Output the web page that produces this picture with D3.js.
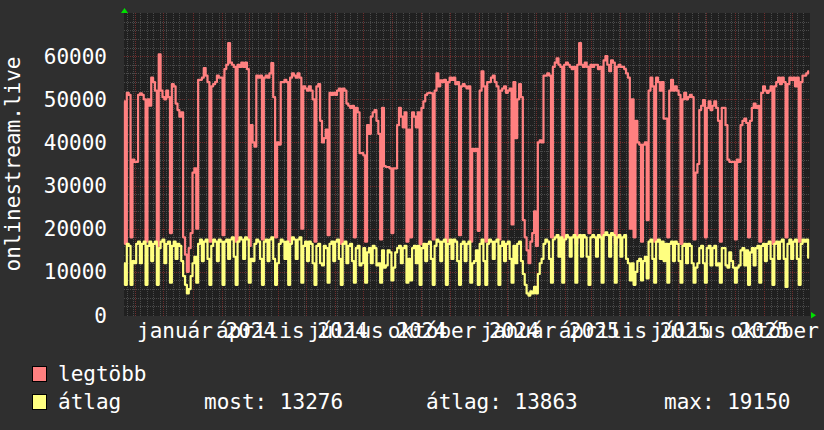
<!DOCTYPE html>
<html><head><meta charset="utf-8">
<script src="https://cdn.jsdelivr.net/npm/d3@7"></script>
<style>html,body{margin:0;padding:0;background:#2f2f2f;}svg{display:block}</style>
</head><body><svg id="c" width="824" height="430"></svg>
<script>
// ---------- data ----------
const yTitle = "onlinestream.live";
const seriesNames = ["legtöbb", "átlag"];
const seriesColors = ["#ff8080", "#ffff80"];
const startDate = new Date(2023, 9, 20);
const endDate = new Date(2025, 9, 20);
const stepDays = 2;
const yMax = 70000;
const yTicks = [0, 10000, 20000, 30000, 40000, 50000, 60000];
const yTickLabels = ["0", "10000", "20000", "30000", "40000", "50000", "60000"];
const labelMonths = [new Date(2024,0,1), new Date(2024,3,1), new Date(2024,6,1), new Date(2024,9,1),
                     new Date(2025,0,1), new Date(2025,3,1), new Date(2025,6,1), new Date(2025,9,1)];
const monthNames = ["január","február","március","április","május","június","július","augusztus","szeptember","október","november","december"];
const legendStats = ["most: 13276", "átlag: 13863", "max: 19150"];
// values in thousands, one point every 2 days
const maxK = [
49.5,16.5,51.5,51,18,36,35.5,35.5,51,51.4,51,50,17,50,48.5,55,54,52,16,60.4,
52,50.5,50,52,50.5,19,53.5,53,49,47.5,46,47,18,14,10,15.5,19,33,34,20,
54.5,54.5,55,57.2,55.5,54,17,53,53.5,54,55.5,55,55,18.5,57,58,63,58.5,58,57.5,
17,58,57.5,58.5,57.5,58.5,57,16,44,40,39,55.5,55,55.5,17.5,55,55.5,55,56,58.4,
50.5,18,40,39.5,54,54,54.5,54,17,55,56,55.5,55,56,55,20,53,52.5,52,53,
52,50,17,53,53.5,45,40,41,43,18.5,51.5,51,51.5,51,52,52.5,16.5,52.5,52,49,
48.5,48,48.5,18,48,47,37.5,37.5,37,17,44,42,46,47,47.5,45,42,17.5,48,34.5,
34.3,34.3,34,19,34,34,44,48,46,43.5,47,17,43,18,47,46,43.5,47,16.5,48,
49.5,51,51.4,51.5,51.4,17.5,52,56,53,54.4,54,54.5,17,54,55,54.5,55,53.5,54,18.5,
53,53.5,53,52.5,53,17,38.5,38,38.5,19.5,52,56.5,53,17,54,54,55,55.5,54,53,
17.5,52,52.5,53,51.5,52,52.5,21,54,41,50,53.5,50.5,22,18,15,12,17,19,24,
16,40,40.5,40,55.5,55.5,56,55.5,18,57.5,58.5,59.5,58,57.5,17,58,58.5,58,57.5,57,
57.5,16.5,58,63,58,57.5,58.5,57.5,19,58,57.5,58,58,57,57.5,17.5,59,60,58,56.5,
59,58.5,16.5,57.5,58,57.5,57.5,57,56,55,20,50,18,45,40,39.5,17,39.5,40,22,
52,55,53,17,55,54,52,54,45.5,45.5,18,52,54.5,52,53,52,51,16.5,50,51.5,
50,50.5,51,50.5,17.5,33,35,47.5,48.5,49.8,18,48,49.5,47.5,48.5,49.5,48,45,17,48,
48,44,36,35.5,35.5,35.5,17.5,36,35.5,44,45,45.5,44.5,18,45,48,49,48,48.5,17,
51.5,53,52,51.5,52,53,16.5,53,54,55,53.5,55,54,18,53.5,55,54.5,55,53,55,
17,54,55.5,55.5,56,56.5
];
const avgK = [
12,7,16.5,16,7,12.5,12,16.5,17,12,16.5,17,7,16,17,12.5,16.5,17,7,15.5,
17,17.5,12,16.5,17,7.5,16,17,13,16.5,16,12.5,9,7,5,6,9,12,13.5,7.5,
16.5,17.5,12.5,17,17.5,13,7,16,17.5,17,12.5,17.5,17,7,17,17.5,13,17.5,18,13.5,
7,17,18,17.5,13,18,17.5,7.5,13,12.5,16.5,17.5,17,13,7,17,17.5,12.5,17.5,18,
13,7,12,16.5,17.5,17,13,17,7,16.5,18,17.5,13,17.5,18,7.5,16,17,12.5,17,
16.5,12,7,16,16.5,12,11.5,16,15.5,7.5,16.5,17,12.5,17,17.5,13,7,16.5,17,12,
16,16.5,12.5,7.5,15.5,16,11.5,12,15.5,7.5,14.5,15.5,12,16,15.5,11.5,12,7.5,15,11,
11.5,15,14.5,8,11,14.5,15.5,16,12,15.5,16,7.5,13,8,15.5,16,12,16,7,15.5,
16.5,12.5,16.5,17,13,7,16,17.5,17,12.5,17,17.5,7,16.5,17.5,13,17.5,17,12.5,7,
16.5,17,12.5,16.5,17,7.5,12,12.5,15,7,16.5,17.5,12.5,7,16.5,17.5,17,13,17,17.5,
7,16,17,12.5,16.5,17,13,7.5,16,12,16.5,17,12.5,9.5,7,5,4.5,5.5,5,6.5,
5,9.5,12,13,16.5,17.5,17,13,7.5,17.5,18,18.5,13.5,18,7.5,17.5,18.5,18,13.5,18,
18.5,7.5,18,18.5,13.5,18.5,18,13.5,7,18,18.5,18,13.5,18.5,18,7.5,18.5,19.15,18.5,13.5,
19,18.5,7.5,18,18.5,13.5,18,18.5,13,12,8,12,7,10,12.5,13,8,12.5,13.5,8.5,
17,17.5,13,7.5,17,17.5,13,17,12.5,16.5,7.5,16.5,17,12.5,17,16.5,12.5,7.5,16,16.5,
12,16.5,16,12,7.5,11,12,15.5,16,12,7.5,15.5,16,11.5,15.5,16,11.5,12,7.5,15.5,
15.5,11.5,11,14.5,12.5,11,7.5,11,11.5,15,15.5,11.5,15,7,14.5,15.5,11.5,15.5,16,7.5,
16,16.5,12.5,16.5,17,13,7,16.5,17,13,17,17.5,13,6.5,16.5,17.5,13,17,17.5,13,
7,16.5,17.5,17,17.5,13.276
];

// ---------- drawing ----------
const W = 824, H = 430;
const FONT = "'DejaVu Sans Mono', monospace";
const svg = d3.select("#c");
const x = d3.scaleTime().domain([startDate, endDate]).range([124, 810]);
const y = d3.scaleLinear().domain([0, yMax]).range([315, 13]);

svg.append("rect").attr("width", W).attr("height", H).attr("fill", "#2f2f2f");
svg.append("rect").attr("x", x(startDate)).attr("y", y(yMax))
  .attr("width", x(endDate) - x(startDate)).attr("height", y(0) - y(yMax) + 1)
  .attr("fill", "#202020");

const grid = svg.append("g").attr("shape-rendering", "crispEdges");
const minorC = "#4a4a4a", majorC = "#6e2c2c";
// horizontal minor / major
d3.range(2000, yMax, 2000).forEach(v => {
  const major = v % 10000 === 0;
  grid.append("line").attr("x1", x(startDate)).attr("x2", x(endDate))
    .attr("y1", Math.round(y(v)) + 0.5).attr("y2", Math.round(y(v)) + 0.5)
    .attr("stroke", major ? majorC : minorC).attr("stroke-dasharray", "1,1");
});
// vertical minor (weeks) and major (months)
d3.timeMonday.range(startDate, endDate).forEach(d => {
  const xx = Math.round(x(d)) + 0.5;
  grid.append("line").attr("x1", xx).attr("x2", xx).attr("y1", y(yMax)).attr("y2", y(0) + 2)
    .attr("stroke", minorC).attr("stroke-dasharray", "1,1");
});
d3.timeMonth.range(startDate, endDate).forEach(d => {
  const xx = Math.round(x(d)) + 0.5;
  grid.append("line").attr("x1", xx).attr("x2", xx).attr("y1", y(yMax)).attr("y2", y(0) + 2)
    .attr("stroke", majorC).attr("stroke-dasharray", "1,1");
});

// series
const dateAt = i => d3.timeDay.offset(startDate, i * stepDays);
const line = d3.line().x((d, i) => x(dateAt(i))).y(d => y(d * 1000)).curve(d3.curveStep);
[maxK, avgK].forEach((arr, k) => {
  svg.append("path").attr("d", line(arr)).attr("fill", "none")
    .attr("stroke", seriesColors[k]).attr("stroke-width", 2.2).attr("stroke-linejoin", "round");
});

// arrows
svg.append("path").attr("d", `M${x(startDate)-3},13 L${x(startDate)+4},13 L${x(startDate)+0.5},8 Z`).attr("fill", "#00e000");
svg.append("path").attr("d", `M811,312 L811,318.5 L816,315.2 Z`).attr("fill", "#00e000");

// y labels
const txt = svg.append("g").attr("font-family", FONT).attr("font-size", 21).attr("fill", "#ffffff");
yTicks.forEach((v, i) => {
  txt.append("text").attr("x", 107).attr("y", y(v) + 7.6).attr("text-anchor", "end").text(yTickLabels[i]);
});
// x labels (centered mid-month)
labelMonths.forEach(m => {
  txt.append("text").attr("x", x(d3.timeDay.offset(m, 15))).attr("y", 338)
    .attr("text-anchor", "middle").text(monthNames[m.getMonth()] + " " + m.getFullYear());
});
// y title
txt.append("text").attr("transform", "translate(20,164) rotate(-90)")
  .attr("text-anchor", "middle").text(yTitle);

// legend
const legRows = [381, 409];
seriesNames.forEach((n, k) => {
  svg.append("rect").attr("x", 32.5).attr("y", legRows[k] - 14.5).attr("width", 14).attr("height", 15)
    .attr("fill", seriesColors[k]).attr("stroke", "#000").attr("stroke-width", 1);
  txt.append("text").attr("x", 58).attr("y", legRows[k]).text(n);
});
[204, 426, 664].forEach((xx, i) => {
  txt.append("text").attr("x", xx).attr("y", legRows[1]).text(legendStats[i]);
});
</script></body></html>
